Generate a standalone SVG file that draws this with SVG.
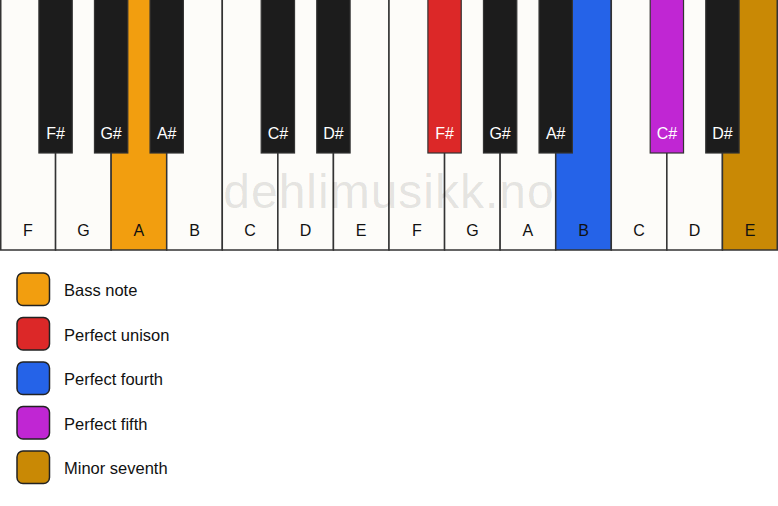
<svg xmlns="http://www.w3.org/2000/svg" width="778" height="506" viewBox="0 0 778 506">
<style>
.w{fill:#fdfcf9;stroke:#333;stroke-width:1.5}
.b{fill:#1c1c1c;stroke:#333;stroke-width:1.2}
.wl{font-family:"Liberation Sans",Arial,sans-serif;font-size:16px;fill:#111;text-anchor:middle}
.bl{font-family:"Liberation Sans",Arial,sans-serif;font-size:16px;fill:#fff;text-anchor:middle}
.lg{stroke:#222;stroke-width:1.5}
.lt{font-family:"Liberation Sans",Arial,sans-serif;font-size:16.5px;fill:#111}
</style>
<rect width="778" height="506" fill="#ffffff"/>
<g id="white-keys">
<g id="wF1"><rect class="w" x="0.75" y="-1" width="54.82" height="251"/><text class="wl" x="27.8" y="236">F</text></g>
<g id="wG1"><rect class="w" x="55.57" y="-1" width="55.57" height="251"/><text class="wl" x="83.4" y="236">G</text></g>
<g id="wA1"><rect class="w" x="111.14" y="-1" width="55.57" height="251" style="fill:#f29e0f"/><text class="wl" x="138.9" y="236">A</text></g>
<g id="wB1"><rect class="w" x="166.71" y="-1" width="55.57" height="251"/><text class="wl" x="194.5" y="236">B</text></g>
<g id="wC1"><rect class="w" x="222.29" y="-1" width="55.57" height="251"/><text class="wl" x="250.1" y="236">C</text></g>
<g id="wD1"><rect class="w" x="277.86" y="-1" width="55.57" height="251"/><text class="wl" x="305.6" y="236">D</text></g>
<g id="wE1"><rect class="w" x="333.43" y="-1" width="55.57" height="251"/><text class="wl" x="361.2" y="236">E</text></g>
<g id="wF2"><rect class="w" x="389" y="-1" width="55.57" height="251"/><text class="wl" x="416.8" y="236">F</text></g>
<g id="wG2"><rect class="w" x="444.57" y="-1" width="55.57" height="251"/><text class="wl" x="472.4" y="236">G</text></g>
<g id="wA2"><rect class="w" x="500.14" y="-1" width="55.57" height="251"/><text class="wl" x="527.9" y="236">A</text></g>
<g id="wB2"><rect class="w" x="555.71" y="-1" width="55.57" height="251" style="fill:#2563e8"/><text class="wl" x="583.5" y="236">B</text></g>
<g id="wC2"><rect class="w" x="611.29" y="-1" width="55.57" height="251"/><text class="wl" x="639.1" y="236">C</text></g>
<g id="wD2"><rect class="w" x="666.86" y="-1" width="55.57" height="251"/><text class="wl" x="694.6" y="236">D</text></g>
<g id="wE2"><rect class="w" x="722.43" y="-1" width="54.82" height="251" style="fill:#c98905"/><text class="wl" x="750.2" y="236">E</text></g>
</g>
<text x="389" y="208" font-family="Liberation Sans,Arial,sans-serif" font-size="48" fill="#000" fill-opacity="0.11" text-anchor="middle" letter-spacing="1">dehlimusikk.no</text>
<g id="black-keys">
<g id="bFs1"><rect class="b" x="38.9" y="-1" width="33.34" height="154"/><text class="bl" x="55.6" y="139">F#</text></g>
<g id="bGs1"><rect class="b" x="94.47" y="-1" width="33.34" height="154"/><text class="bl" x="111.1" y="139">G#</text></g>
<g id="bAs1"><rect class="b" x="150.04" y="-1" width="33.34" height="154"/><text class="bl" x="166.7" y="139">A#</text></g>
<g id="bCs1"><rect class="b" x="261.19" y="-1" width="33.34" height="154"/><text class="bl" x="277.9" y="139">C#</text></g>
<g id="bDs1"><rect class="b" x="316.76" y="-1" width="33.34" height="154"/><text class="bl" x="333.4" y="139">D#</text></g>
<g id="bFs2"><rect class="b" x="427.9" y="-1" width="33.34" height="154" style="fill:#dc2828"/><text class="bl" x="444.6" y="139">F#</text></g>
<g id="bGs2"><rect class="b" x="483.47" y="-1" width="33.34" height="154"/><text class="bl" x="500.1" y="139">G#</text></g>
<g id="bAs2"><rect class="b" x="539.04" y="-1" width="33.34" height="154"/><text class="bl" x="555.7" y="139">A#</text></g>
<g id="bCs2"><rect class="b" x="650.19" y="-1" width="33.34" height="154" style="fill:#c026d3"/><text class="bl" x="666.9" y="139">C#</text></g>
<g id="bDs2"><rect class="b" x="705.76" y="-1" width="33.34" height="154"/><text class="bl" x="722.4" y="139">D#</text></g>
</g>
<g id="legend">
<g id="lg1"><rect class="lg" x="17" y="273" width="32.5" height="32.5" rx="6" fill="#f29e0f"/><text class="lt" x="64" y="296">Bass note</text></g>
<g id="lg2"><rect class="lg" x="17" y="317.5" width="32.5" height="32.5" rx="6" fill="#dc2828"/><text class="lt" x="64" y="340.5">Perfect unison</text></g>
<g id="lg3"><rect class="lg" x="17" y="362" width="32.5" height="32.5" rx="6" fill="#2563e8"/><text class="lt" x="64" y="385">Perfect fourth</text></g>
<g id="lg4"><rect class="lg" x="17" y="406.5" width="32.5" height="32.5" rx="6" fill="#c026d3"/><text class="lt" x="64" y="429.5">Perfect fifth</text></g>
<g id="lg5"><rect class="lg" x="17" y="451" width="32.5" height="32.5" rx="6" fill="#c98905"/><text class="lt" x="64" y="474">Minor seventh</text></g>
</g>
</svg>
